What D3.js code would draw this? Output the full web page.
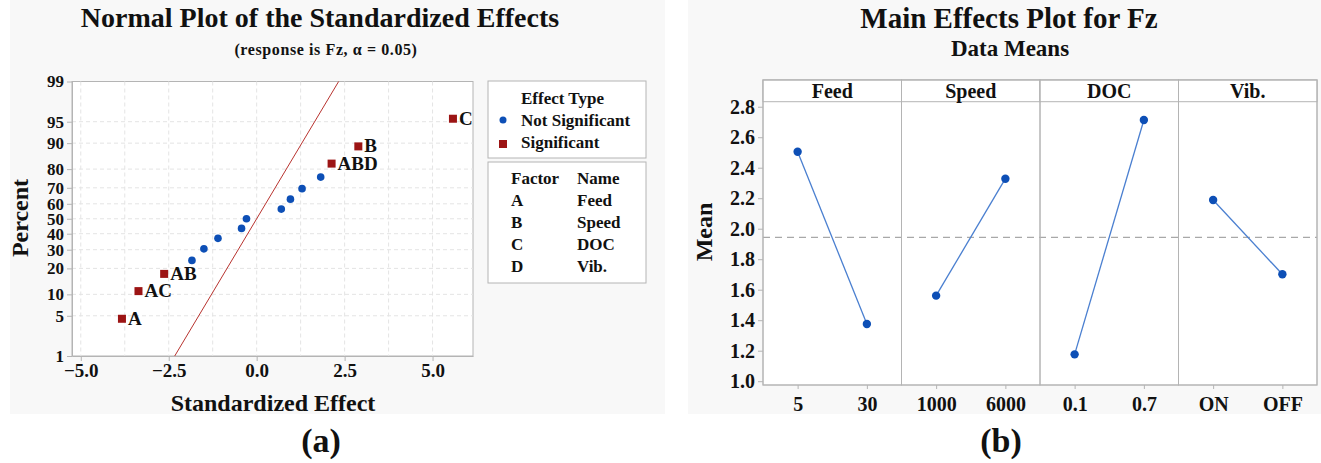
<!DOCTYPE html>
<html>
<head>
<meta charset="utf-8">
<script src="https://cdn.jsdelivr.net/npm/d3@7"></script>
<style>
  body { margin: 0; background: #fff; }
  text { font-family: "Liberation Serif", "Times New Roman", serif; font-weight: bold; fill: #111; }
</style>
</head>
<body>
<div id="my_dataviz"></div>
<script>
// (a) normal plot of the standardized effects
var effects = [-3.83, -3.36, -2.63, -1.84, -1.50, -1.10, -0.43, -0.29, 0.70, 0.96, 1.29, 1.82, 2.13, 2.89, 5.58];
var percents = [4.5, 11.0, 17.5, 24.0, 30.5, 37.0, 43.5, 50.0, 56.5, 63.0, 69.5, 76.0, 82.5, 89.0, 95.5];
var effectNames = ["A", "AC", "AB", "", "", "", "", "", "", "", "", "", "ABD", "B", "C"];
var significant = [1, 1, 1, 0, 0, 0, 0, 0, 0, 0, 0, 0, 1, 1, 1];
var refEffect = [-2.33, 2.33];
var refPercent = [1, 99];
var pctTicks = [1, 5, 10, 20, 30, 40, 50, 60, 70, 80, 90, 95, 99];
var effectTicks = [-5, -2.5, 0, 2.5, 5];
var effectGrid = [-5, -3.75, -2.5, -1.25, 0, 1.25, 2.5, 3.75, 5];
var factorCodes = ["A", "B", "C", "D"];
var factorNames = ["Feed", "Speed", "DOC", "Vib."];

// (b) main effects plot, data means
var panels = ["Feed", "Speed", "DOC", "Vib."];
var levels = [["5", "30"], ["1000", "6000"], ["0.1", "0.7"], ["ON", "OFF"]];
var means = [[2.505, 1.375], [1.561, 2.328], [1.176, 2.713], [2.188, 1.701]];
var grandMean = 1.943;
var meanTicks = [1.0, 1.2, 1.4, 1.6, 1.8, 2.0, 2.2, 2.4, 2.6, 2.8];

var red = "#9c1414", blue = "#0d4fb6", gridCol = "#e4e4e4", frameCol = "#b4b4b4";

// inverse normal cdf (Acklam)
function probit(p) {
    var a = [-3.969683028665376e+01, 2.209460984245205e+02, -2.759285104469687e+02, 1.383577518672690e+02, -3.066479806614716e+01, 2.506628277459239e+00];
    var b = [-5.447609879822406e+01, 1.615858368580409e+02, -1.556989798598866e+02, 6.680131188771972e+01, -1.328068155288572e+01];
    var c = [-7.784894002430293e-03, -3.223964580411365e-01, -2.400758277161838e+00, -2.549732539343734e+00, 4.374664141464968e+00, 2.938163982698783e+00];
    var d = [7.784695709041462e-03, 3.224671290700398e-01, 2.445134137142996e+00, 3.754408661907416e+00];
    var q, r;
    if (p < 0.02425) {
        q = Math.sqrt(-2 * Math.log(p));
        return (((((c[0] * q + c[1]) * q + c[2]) * q + c[3]) * q + c[4]) * q + c[5]) / ((((d[0] * q + d[1]) * q + d[2]) * q + d[3]) * q + 1);
    }
    if (p > 1 - 0.02425) return -probit(1 - p);
    q = p - 0.5; r = q * q;
    return (((((a[0] * r + a[1]) * r + a[2]) * r + a[3]) * r + a[4]) * r + a[5]) * q / (((((b[0] * r + b[1]) * r + b[2]) * r + b[3]) * r + b[4]) * r + 1);
}

var svg = d3.select("#my_dataviz")
    .append("svg")
    .attr("width", 1321)
    .attr("height", 463);

// light figure backgrounds
svg.append("rect").attr("x", 10).attr("y", 0).attr("width", 655).attr("height", 414).attr("fill", "#f8f8f8");
svg.append("rect").attr("x", 688).attr("y", 0).attr("width", 633).attr("height", 414).attr("fill", "#f8f8f8");

// ---------- (a) ----------
var x = d3.scaleLinear().domain([-5.25, 6.15]).range([72, 473]);
var y = d3.scaleLinear().domain([probit(0.01), probit(0.99)]).range([356, 81.5]);
var yp = function (p) { return y(probit(p / 100)); };

var ga = svg.append("g");
ga.append("rect")
    .attr("x", 72).attr("y", 81.5)
    .attr("width", 401).attr("height", 274.5)
    .attr("fill", "#fff").attr("stroke", frameCol);

// grid
ga.selectAll(".hgrid").data(pctTicks.slice(1, -1)).enter().append("line")
    .attr("x1", 72).attr("x2", 473)
    .attr("y1", function (d) { return yp(d); }).attr("y2", function (d) { return yp(d); })
    .attr("stroke", gridCol).attr("stroke-dasharray", "4,3");
ga.selectAll(".vgrid").data(effectGrid).enter().append("line")
    .attr("y1", 81.5).attr("y2", 356)
    .attr("x1", function (d) { return x(d); }).attr("x2", function (d) { return x(d); })
    .attr("stroke", gridCol).attr("stroke-dasharray", "4,3");

// axes
var yAxA = ga.append("g").attr("transform", "translate(72,0)")
    .call(d3.axisLeft(y)
        .tickValues(pctTicks.map(function (p) { return probit(p / 100); }))
        .tickFormat(function (d, i) { return pctTicks[i]; })
        .tickSize(5).tickSizeOuter(0).tickPadding(3));
yAxA.selectAll("text").style("font-size", "17px");
var xAxA = ga.append("g").attr("transform", "translate(0,356)")
    .call(d3.axisBottom(x)
        .tickValues(effectTicks)
        .tickFormat(d3.format(".1f"))
        .tickSize(5).tickSizeOuter(0).tickPadding(3));
xAxA.selectAll("text").style("font-size", "19px");
ga.selectAll(".domain, .tick line").attr("stroke", frameCol);

// reference line
ga.append("line")
    .attr("x1", x(refEffect[0])).attr("y1", yp(refPercent[0]))
    .attr("x2", x(refEffect[1])).attr("y2", yp(refPercent[1]))
    .attr("stroke", "#b8332f").attr("stroke-width", 1);

// points
var pts = effects.map(function (e, i) {
    return { effect: e, pct: percents[i], name: effectNames[i], sig: significant[i] };
});
ga.selectAll(".nsig").data(pts.filter(function (d) { return !d.sig; })).enter().append("circle")
    .attr("cx", function (d) { return x(d.effect); })
    .attr("cy", function (d) { return yp(d.pct); })
    .attr("r", 3.8).attr("fill", blue);
var sig = pts.filter(function (d) { return d.sig; });
ga.selectAll(".sig").data(sig).enter().append("rect")
    .attr("x", function (d) { return x(d.effect) - 4; })
    .attr("y", function (d) { return yp(d.pct) - 4; })
    .attr("width", 8).attr("height", 8).attr("fill", red);
ga.selectAll(".siglab").data(sig).enter().append("text")
    .attr("x", function (d) { return x(d.effect) + 6; })
    .attr("y", function (d) { return yp(d.pct) + 6; })
    .style("font-size", "19px")
    .text(function (d) { return d.name; });

// titles
ga.append("text").attr("x", 320).attr("y", 27).attr("text-anchor", "middle")
    .style("font-size", "28px").text("Normal Plot of the Standardized Effects");
ga.append("text").attr("x", 326).attr("y", 55).attr("text-anchor", "middle")
    .style("font-size", "16px").style("letter-spacing", "0.6px").text("(response is Fz, \u03b1 = 0.05)");
ga.append("text").attr("x", 273).attr("y", 411).attr("text-anchor", "middle")
    .style("font-size", "24px").text("Standardized Effect");
ga.append("text").attr("transform", "translate(28,218) rotate(-90)").attr("text-anchor", "middle")
    .style("font-size", "24px").text("Percent");
ga.append("text").attr("x", 321).attr("y", 452).attr("text-anchor", "middle")
    .style("font-size", "34px").text("(a)");

// legend boxes
var lg = svg.append("g");
lg.append("rect").attr("x", 488).attr("y", 81).attr("width", 158).attr("height", 77)
    .attr("fill", "#fff").attr("stroke", frameCol);
lg.append("rect").attr("x", 488).attr("y", 162).attr("width", 158).attr("height", 121)
    .attr("fill", "#fff").attr("stroke", frameCol);
lg.append("text").attr("x", 521).attr("y", 104).style("font-size", "17px").text("Effect Type");
lg.append("circle").attr("cx", 503).attr("cy", 120).attr("r", 3.5).attr("fill", blue);
lg.append("text").attr("x", 521).attr("y", 126).style("font-size", "17px").text("Not Significant");
lg.append("rect").attr("x", 499).attr("y", 140).attr("width", 8).attr("height", 8).attr("fill", red);
lg.append("text").attr("x", 521).attr("y", 148).style("font-size", "17px").text("Significant");
lg.append("text").attr("x", 511).attr("y", 184).style("font-size", "17px").text("Factor");
lg.append("text").attr("x", 577).attr("y", 184).style("font-size", "17px").text("Name");
lg.selectAll(".fc").data(factorCodes).enter().append("text")
    .attr("x", 511).attr("y", function (d, i) { return 206 + i * 22; })
    .style("font-size", "17px").text(function (d) { return d; });
lg.selectAll(".fn").data(factorNames).enter().append("text")
    .attr("x", 577).attr("y", function (d, i) { return 206 + i * 22; })
    .style("font-size", "17px").text(function (d) { return d; });

// ---------- (b) ----------
var gb = svg.append("g");
var band = d3.scaleBand().domain(panels).range([763, 1317]).padding(0);
var ym = d3.scaleLinear().domain([0.975, 2.833]).range([385, 101.7]);

gb.append("rect").attr("x", 763).attr("y", 80).attr("width", 554).attr("height", 305)
    .attr("fill", "#fff").attr("stroke", frameCol);

// grand mean reference
gb.append("line")
    .attr("x1", 763).attr("x2", 1317)
    .attr("y1", ym(grandMean)).attr("y2", ym(grandMean))
    .attr("stroke", "#a8a8a8").attr("stroke-width", 1.2).attr("stroke-dasharray", "7,5");

panels.forEach(function (p, i) {
    var bx = band(p), bw = band.bandwidth();
    var xp = d3.scalePoint().domain(levels[i]).range([bx, bx + bw]).padding(0.5);
    var g = gb.append("g");
    // header strip and panel frame
    g.append("rect").attr("x", bx).attr("y", 80).attr("width", bw).attr("height", 21.7)
        .attr("fill", "#fff").attr("stroke", frameCol);
    g.append("rect").attr("x", bx).attr("y", 80).attr("width", bw).attr("height", 305)
        .attr("fill", "none").attr("stroke", frameCol);
    g.append("text").attr("x", bx + bw / 2).attr("y", 98).attr("text-anchor", "middle")
        .style("font-size", "20px").text(p);
    var ax = g.append("g").attr("transform", "translate(0,385)")
        .call(d3.axisBottom(xp).tickSize(4).tickPadding(8));
    ax.select(".domain").remove();
    ax.selectAll(".tick line").attr("stroke", frameCol);
    ax.selectAll("text").style("font-size", "20px");
    var row = levels[i].map(function (l, j) { return { level: l, mean: means[i][j] }; });
    g.append("path").datum(row)
        .attr("d", d3.line().x(function (d) { return xp(d.level); }).y(function (d) { return ym(d.mean); }))
        .attr("fill", "none").attr("stroke", "#4a7fd0").attr("stroke-width", 1.3);
    g.selectAll("circle").data(row).enter().append("circle")
        .attr("cx", function (d) { return xp(d.level); })
        .attr("cy", function (d) { return ym(d.mean); })
        .attr("r", 4.2).attr("fill", blue);
});

var yAxB = gb.append("g").attr("transform", "translate(763,0)")
    .call(d3.axisLeft(ym).tickValues(meanTicks).tickFormat(d3.format(".1f"))
        .tickSize(5).tickSizeOuter(0).tickPadding(3));
yAxB.select(".domain").remove();
yAxB.selectAll(".tick line").attr("stroke", frameCol);
yAxB.selectAll("text").style("font-size", "20px");

gb.append("text").attr("x", 1009).attr("y", 28).attr("text-anchor", "middle")
    .style("font-size", "29px").text("Main Effects Plot for Fz");
gb.append("text").attr("x", 1010).attr("y", 56).attr("text-anchor", "middle")
    .style("font-size", "23px").text("Data Means");
gb.append("text").attr("transform", "translate(712,232) rotate(-90)").attr("text-anchor", "middle")
    .style("font-size", "24px").text("Mean");
gb.append("text").attr("x", 1001).attr("y", 452).attr("text-anchor", "middle")
    .style("font-size", "34px").text("(b)");
</script>
</body>
</html>
